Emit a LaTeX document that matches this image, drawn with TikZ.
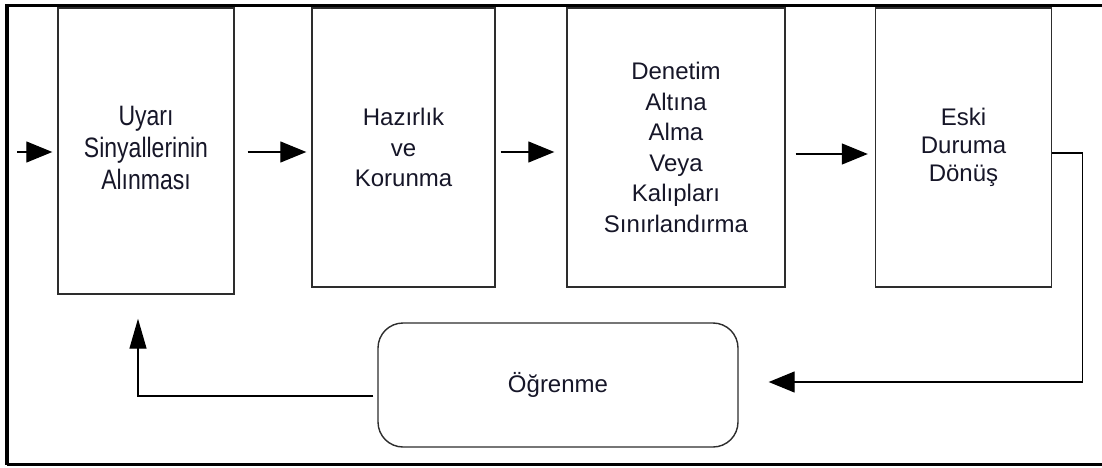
\documentclass[tikz,border=0pt]{standalone}
\usepackage{fontspec}
\setmainfont{Liberation Sans}
\usetikzlibrary{arrows.meta,positioning}
\definecolor{txt}{RGB}{22,22,40}
\definecolor{edge}{RGB}{45,45,45}
\begin{document}
\begin{tikzpicture}[x=1pt,y=-1pt,
  stage/.style={draw=edge,line width=1.4pt,fill=white,align=center,inner sep=0pt,
    text=txt,font=\fontsize{24}{30.5}\selectfont},
  learnbox/.style={stage,rounded corners=25pt},
  arr/.style={draw=black,line width=1.3pt,-{Triangle[length=26pt,width=21pt]}},
  uparr/.style={draw=black,line width=1.3pt,-{Triangle[length=30pt,width=17pt]}}]
\useasboundingbox (0,0) rectangle (1102,468);
\draw[line width=3.6pt] (7,464.5) -- (7,5.5) -- (1104,5.5);
\draw[line width=3.6pt] (7,464.5) -- (1104,464.5);
\node[stage,minimum width=176pt,minimum height=286pt] (b1) at (146,151)
  {\scalebox{1}[1.22]{\fontsize{23}{26.5}\selectfont\begin{tabular}{@{}c@{}}Uyarı\\Sinyallerinin\\Alınması\end{tabular}}};
\node[stage,minimum width=183pt,minimum height=279pt] (b2) at (403.5,147.5)
  {Hazırlık\\ve\\Korunma};
\node[stage,minimum width=218pt,minimum height=279pt] (b3) at (676,147.5)
  {Denetim\\Altına\\Alma\\Veya\\Kalıpları\\Sınırlandırma};
\node[stage,minimum width=176pt,minimum height=279pt,font=\fontsize{24}{28}\selectfont] (b4) at (963.5,147.5)
  {Eski\\Duruma\\Dönüş};
\node[learnbox,minimum width=360pt,minimum height=124pt] (lrn) at (558,385) {Öğrenme};
\coordinate (in) at (17,152);
\draw[arr,shorten >=0pt] (in) -- ([xshift=-5pt,yshift=-1pt]b1.west);
\draw[arr] ([xshift=13pt,yshift=-1pt]b1.east) -- ([xshift=-5pt,yshift=-4.5pt]b2.west);
\draw[arr] ([xshift=5pt,yshift=-4.5pt]b2.east) -- ([xshift=-12pt,yshift=-4.5pt]b3.west);
\draw[arr] ([xshift=10pt,yshift=-6.5pt]b3.east) -- ([xshift=-7pt,yshift=-6.5pt]b4.west);
\draw[arr] ([yshift=-5.5pt]b4.east) -- ++(30,0) |- ([xshift=30pt,yshift=3pt]lrn.east);
\draw[uparr] ([xshift=-4pt,yshift=-11pt]lrn.west) -| ([xshift=-8pt,yshift=-24pt]b1.south);
\end{tikzpicture}
\end{document}
